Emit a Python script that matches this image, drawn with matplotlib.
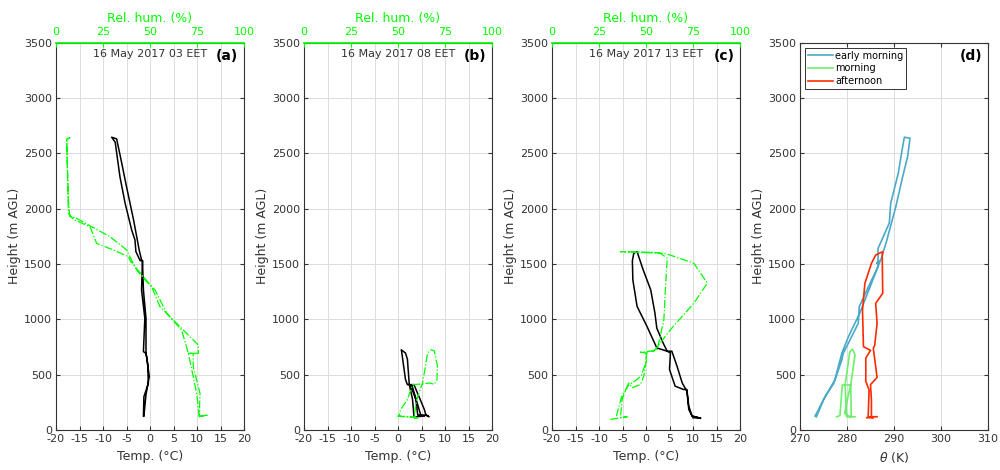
import matplotlib.pyplot as plt
import numpy as np

# ---- profile data (value, height in m AGL), ascent + descent ----
# (a) 16 May 2017 03 EET
temp_a = [-1.4, -1.3, -0.35, -0.5, -0.85, -1.4, -1.1, -1.8, -1.6, -1.8, -2.3, -3.5, -5.0, -6.2, -7.1, -8.15,
          -7.4, -6.4, -5.3, -3.9, -3.2, -3.0, -2.1, -1.6, -1.4, -0.85, -0.85, -0.15, -0.85, -1.3]
temp_a_h = [126, 301, 422, 600, 693, 708, 1009, 1266, 1531, 1537, 1627, 1899, 2200, 2450, 2631, 2646,
            2600, 2290, 2050, 1808, 1718, 1612, 1531, 1531, 1266, 1009, 700, 484, 320, 126]
rh_a = [76.2, 81.0, 76.2, 76.6, 74.8, 73.0, 73.0, 70.4, 75.7, 75.7, 69.5, 62.4, 55.3, 50.9, 46.5, 42.0,
        40.2, 37.6, 28.7, 19.0, 11.0, 7.4, 6.6, 5.7, 7.4,
        5.7, 6.0, 6.6, 9.2, 18.1, 21.6, 30.5, 38.5, 39.7, 41.1, 42.9, 48.2, 52.7, 58.9, 66.8, 70.4,
        73.0, 74.8, 76.2]
rh_a_h = [126, 135, 120, 331, 452, 572, 693, 693, 693, 768, 873, 994, 1114, 1295, 1386, 1476,
          1536, 1627, 1747, 1837, 1913, 1928, 2078, 2620, 2642,
          2630, 2380, 1958, 1904, 1837, 1687, 1627, 1566, 1521, 1506, 1446, 1340, 1265, 1054, 904, 693,
          482, 331, 126]

# (b) 16 May 2017 08 EET
temp_b = [3.4, 3.1, 2.4, 2.0, 1.6, 0.7, 0.8, 1.6, 2.0, 3.4, 5.6, 5.9, 6.6, 5.8, 4.2, 3.8, 2.6, 3.0,
          4.9, 5.6, 4.0, 3.6]
temp_b_h = [120, 275, 410, 640, 695, 725, 700, 455, 410, 410, 186, 141, 120, 135, 135, 275, 410, 400,
            126, 126, 120, 111]
rh_b = [49.6, 55.0, 60.4, 58.6, 60.0, 63.0, 64.0, 65.7, 67.5, 69.3, 71.0, 70.7, 69.3, 66.6, 62.0,
        57.7, 55.0, 51.4, 50.5, 53.0, 57.0, 60.4]
rh_b_h = [126, 120, 110, 126, 275, 425, 515, 695, 725, 715, 575, 455, 413, 425, 415,
          410, 275, 186, 126, 120, 118, 108]

# (c) 16 May 2017 13 EET
temp_c = [10.0, 11.6, 9.8, 9.1, 8.7, 7.7, 6.6, 5.5, 4.5, 3.6, 2.3, 1.9, 1.0, -0.6, -1.9,
          -2.6, -2.9, -2.8, -1.9, 0.2, 2.3, 4.5, 5.2, 5.0, 6.2, 8.0, 8.7, 9.1, 9.8, 11.6]
temp_c_h = [111, 108, 126, 186, 351, 426, 577, 712, 712, 790, 920, 1057, 1267, 1447, 1612,
            1597, 1530, 1357, 1117, 937, 742, 712, 697, 547, 396, 366, 366, 216, 126, 105]
rh_c = [31.0, 40.0, 36.4, 37.3, 40.0, 40.9, 42.6, 47.0, 48.8, 50.3, 49.7, 47.0, 52.4, 56.0,
        59.5, 60.4, 61.3, 57.7, 36.4, 54.2, 61.3, 75.5, 82.6, 75.5, 63.0, 54.2, 50.6, 49.7,
        47.5, 44.0, 41.0, 37.0, 34.0]
rh_c_h = [96, 120, 111, 276, 396, 426, 381, 411, 486, 637, 697, 703, 712, 727,
          996, 1297, 1552, 1597, 1612, 1605, 1590, 1507, 1327, 1147, 907, 712, 712, 600,
          490, 440, 410, 300, 111]

# (d) potential temperature
theta_em = [273.2, 273.9, 275.3, 277.2, 278.9, 279.2, 280.1, 282.4, 282.6, 284.9, 286.6, 286.6,
            289.0, 289.3, 290.9, 291.6, 292.2, 293.4, 292.9, 291.9, 290.4, 288.3, 287.6, 287.2,
            286.3, 287.0, 282.7, 280.3, 278.9, 277.4, 275.0, 273.5]
theta_em_h = [126, 181, 301, 422, 633, 693, 768, 964, 1114, 1325, 1476, 1640, 1870, 2050, 2319,
              2500, 2646, 2637, 2470, 2300, 2020, 1688, 1597, 1536, 1506, 1520, 1054, 843, 693, 452,
              271, 120]
theta_mo = [277.8, 278.5, 279.0, 279.5, 280.8, 280.9, 279.9, 279.6, 280.6, 281.2, 281.7, 280.8,
            280.2, 279.5, 280.6, 281.7]
theta_mo_h = [120, 130, 407, 407, 407, 120, 120, 407, 708, 730, 678, 407, 300, 151, 120, 120]
theta_af = [284.2, 285.6, 284.5, 284.7, 284.0, 284.0, 285.0, 283.5, 283.3, 283.8, 285.2, 286.1,
            287.6, 287.5, 287.6, 286.1, 286.4, 285.9, 285.6, 286.4, 285.0, 285.2, 285.2, 286.4]
theta_af_h = [111, 111, 120, 361, 440, 650, 720, 753, 1084, 1325, 1506, 1581, 1612, 1566, 1235,
              1145, 964, 768, 738, 475, 410, 271, 120, 120]

titles = ['16 May 2017 03 EET', '16 May 2017 08 EET', '16 May 2017 13 EET']
panel_labels = ['(a)', '(b)', '(c)', '(d)']

grey = '#333333'
green = '#00ff00'
plt.rcParams['font.family'] = 'DejaVu Sans'
plt.rcParams['font.size'] = 8
plt.rcParams['axes.unicode_minus'] = False

fig = plt.figure(figsize=(10, 4.7), dpi=100)
lefts = [0.056, 0.304, 0.552, 0.800]
axes = [fig.add_axes([l, 0.0851, 0.188, 0.824]) for l in lefts]


def style(ax):
    ax.set_ylim(0, 3500)
    ax.set_yticks(np.arange(0, 3501, 500))
    ax.grid(True, color='#dcdcdc', linewidth=0.7)
    ax.set_axisbelow(True)
    ax.tick_params(direction='in', top=True, right=True, colors=grey, labelsize=8, length=3, pad=3)
    for s in ax.spines.values():
        s.set_color(grey)
        s.set_linewidth(0.8)
    ax.set_ylabel('Height (m AGL)', color=grey, fontsize=9, labelpad=2)


profiles = [(temp_a, temp_a_h, rh_a, rh_a_h), (temp_b, temp_b_h, rh_b, rh_b_h),
            (temp_c, temp_c_h, rh_c, rh_c_h)]

for i, (t, th, rh, rhh) in enumerate(profiles):
    ax = axes[i]
    style(ax)
    ax.set_xlim(-20, 20)
    ax.set_xticks(np.arange(-20, 21, 5))
    ax.set_xlabel('Temp. (°C)', color=grey, fontsize=9)
    ax.plot(t, th, color='black', lw=1.1, zorder=3)
    ax2 = ax.twiny()
    ax2.set_xlim(0, 100)
    ax2.set_xticks([0, 25, 50, 75, 100])
    ax2.plot(rh, rhh, color=green, lw=0.9, ls='-.', zorder=2)
    ax2.tick_params(axis='x', direction='in', colors=green, labelsize=8, length=3, pad=4)
    ax2.spines['top'].set_color(green)
    ax2.spines['top'].set_linewidth(1.2)
    for s in ['left', 'right', 'bottom']:
        ax2.spines[s].set_visible(False)
    ax2.set_xlabel('Rel. hum. (%)', color=green, fontsize=9)
    ax.text(0.5, 0.985, titles[i], transform=ax.transAxes, ha='center', va='top', color=grey, fontsize=8)
    ax.text(0.97, 0.985, panel_labels[i], transform=ax.transAxes, ha='right', va='top',
            fontsize=10, fontweight='bold')

ax = axes[3]
style(ax)
ax.set_xlim(270, 310)
ax.set_xticks(np.arange(270, 311, 10))
ax.set_xlabel(r'$\theta$ (K)', color=grey, fontsize=9)
ax.plot(theta_em, theta_em_h, color='#4aaac8', lw=1.2, label='early morning')
ax.plot(theta_mo, theta_mo_h, color='#6cf06c', lw=1.2, label='morning')
ax.plot(theta_af, theta_af_h, color='#ff2a00', lw=1.2, label='afternoon')
leg = ax.legend(loc='upper left', fontsize=7, fancybox=False, edgecolor=grey, framealpha=1,
                borderaxespad=0.5, borderpad=0.3, handlelength=2.6, handletextpad=0.2,
                labelspacing=0.3)
leg.get_frame().set_linewidth(0.7)
ax.text(0.97, 0.985, panel_labels[3], transform=ax.transAxes, ha='right', va='top',
        fontsize=10, fontweight='bold')

fig.savefig('out.png', dpi=100)
